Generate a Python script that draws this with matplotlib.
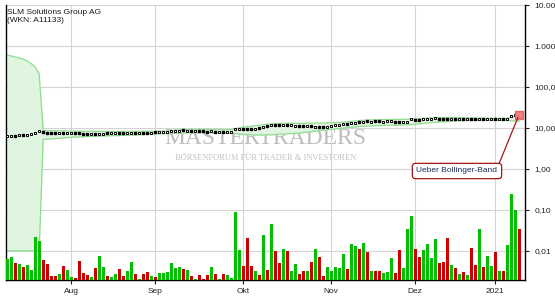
import numpy as np
import pandas as pd
import matplotlib
matplotlib.use('Agg')
import matplotlib.pyplot as plt

# -- Data --
dates = pd.bdate_range('2020-07-10', '2021-01-12')
dates = dates.drop(pd.to_datetime(['2020-12-24', '2020-12-25', '2020-12-31', '2021-01-01']))

price = [6.3, 6.4, 6.4, 6.6, 6.7, 6.9, 7.2, 7.7, 8.2, 8.0, 7.6,
         7.4, 7.4, 7.5, 7.5, 7.5, 7.4, 7.5, 7.4, 7.3, 7.3,
         7.2, 7.1, 7.1, 7.2, 7.4, 7.4, 7.6, 7.7, 7.6, 7.7, 7.7, 7.7, 7.6, 7.7, 7.7, 7.7,
         7.8, 7.8, 7.9, 7.8, 8.5, 8.6, 8.6, 8.7, 8.6, 8.6, 8.5,
         8.3, 8.2, 8.1, 8.2, 8.0, 8.0, 8.1, 8.0, 8.1,
         9.2, 9.3, 9.3, 9.3, 9.4, 9.5, 9.9, 10.5,
         11.2, 11.8, 11.8, 11.6, 11.8, 11.7, 11.5, 11.4, 11.2, 11.1, 11.0, 11.0, 10.8, 10.7,
         10.6, 10.7, 11.2, 11.6, 11.9, 12.2, 12.6, 13.0, 13.5, 14.0, 14.3, 14.5, 14.3, 14.5,
         14.4, 14.3, 14.5, 14.4, 14.3, 14.2, 13.8, 14.2, 16.3, 16.0, 16.0, 16.1, 16.1, 16.9,
         17.2, 17.0, 16.8, 16.6, 16.7, 16.6, 16.6, 16.8, 16.9, 16.7, 16.8, 16.9, 16.8, 16.9,
         16.8, 16.6, 16.7, 16.6, 16.9, 19.5, 20.5, 20.2]

band_upper = [600, 570, 540, 510, 480, 430, 370, 310, 210,
              8.6, 8.6, 8.6, 8.5, 8.5, 8.5, 8.4, 8.4, 8.4, 8.3, 8.3, 8.3,
              8.3, 8.2, 8.2, 8.2, 8.2, 8.2, 8.2, 8.2, 8.2, 8.2, 8.2, 8.2, 8.2, 8.3, 8.3, 8.3, 8.3, 8.3, 8.4, 8.4,
              8.7, 8.9, 9.0, 9.1, 9.2, 9.2, 9.2, 9.2, 9.2, 9.2, 9.1, 9.1, 9.1, 9.0, 9.0, 9.0,
              9.6, 10.1, 10.5, 10.8, 11.1, 11.4, 11.7, 12.0, 12.3, 12.5, 12.7, 12.8, 12.9, 13.0, 13.0,
              13.0, 13.0, 13.0, 13.0, 13.1, 13.1, 13.2, 13.2, 13.3, 13.4, 13.5, 13.7, 13.9, 14.2, 14.5,
              14.9, 15.2, 15.4, 15.6, 15.7, 15.8, 15.9, 16.0, 16.0, 16.1, 16.2, 16.2, 16.3, 16.3,
              16.5, 16.8, 17.0, 17.2, 17.4, 17.7, 17.9, 18.0, 18.0, 18.0, 17.9, 17.9, 17.8, 17.8,
              17.7, 17.6, 17.5, 17.4, 17.4, 17.3, 17.2, 17.1, 17.1, 17.0, 17.1, 18.2, 19.2, 19.8]

band_lower = [0.01, 0.01, 0.01, 0.01, 0.01, 0.01, 0.01, 0.01, 0.01,
              5.2, 5.3, 5.4, 5.5, 5.6, 5.7, 5.8, 5.9, 6.0, 6.0, 6.1, 6.2, 6.2, 6.3, 6.3, 6.4, 6.4,
              6.5, 6.5, 6.5, 6.6, 6.6,
              6.7, 6.8, 6.8, 6.9, 7.0, 7.0, 7.1, 7.2, 7.2, 7.3, 7.3, 7.4, 7.5, 7.5, 7.6, 7.6, 7.6, 7.6,
              7.6, 7.6, 7.6, 7.6, 7.5, 7.5, 7.4, 7.4, 7.3, 7.1, 7.0, 6.9, 6.8, 6.7, 6.7,
              6.7, 6.8, 6.8, 6.9, 7.0, 7.1, 7.2, 7.3, 7.4, 7.5, 7.7, 7.9, 8.1, 8.4, 8.6, 8.8, 9.0, 9.3,
              9.5, 9.7, 9.9, 10.1, 10.3, 10.5, 10.8, 11.0, 11.1, 11.2, 11.3, 11.4, 11.5, 11.6, 11.7,
              11.7, 11.8,
              11.9, 12.0, 12.1, 12.3, 12.6, 12.9, 13.2, 13.5, 13.8, 14.0, 14.2, 14.4, 14.6, 14.8,
              15.0, 15.1, 15.2, 15.3, 15.3, 15.4, 15.4, 15.4, 15.4, 15.4, 15.4, 15.3, 15.2, 15.0,
              14.8, 14.6]

volume = [0.0065, 0.0071, 0.0051, 0.0048, 0.0041, 0.0046, 0.0034, 0.022, 0.0175, 0.0060,
          0.0048, 0.0025, 0.0025, 0.0027, 0.0043, 0.0034, 0.0023, 0.0022, 0.0057, 0.0029,
          0.0026, 0.0023, 0.0038, 0.0076, 0.0041, 0.0025, 0.0023, 0.0027, 0.0036, 0.0025,
          0.0033, 0.0054, 0.0027, 0.0021, 0.0027, 0.0031, 0.0025, 0.0023, 0.0029, 0.0029,
          0.0031, 0.0051, 0.0038, 0.0041, 0.0036, 0.0034, 0.0025, 0.0021, 0.0026, 0.0021,
          0.0026, 0.0041, 0.0027, 0.0021, 0.0027, 0.0026, 0.0022, 0.089, 0.0106, 0.0043,
          0.0207, 0.0043, 0.0033, 0.0026, 0.0245, 0.0034, 0.0456, 0.0100, 0.0051, 0.0112,
          0.0100, 0.0033, 0.0048, 0.0027, 0.0033, 0.0033, 0.0054, 0.0112, 0.0071, 0.0025,
          0.0041, 0.0033, 0.0041, 0.0038, 0.0085, 0.0036, 0.0148, 0.0132, 0.0112, 0.0157,
          0.0095, 0.0033, 0.0033, 0.0033, 0.0029, 0.0031, 0.0067, 0.0029, 0.0106, 0.0038,
          0.0344, 0.0714, 0.0112, 0.0071, 0.0106, 0.0148, 0.0067, 0.0196, 0.0051, 0.0054,
          0.0207, 0.0046, 0.0038, 0.0027, 0.0031, 0.0026, 0.0118, 0.0046, 0.0344, 0.0041,
          0.0076, 0.0043, 0.0093, 0.0033, 0.0033, 0.0140, 0.25, 0.10, 0.035]

# g = close up, r = close down (ten days per chunk)
direction = ''.join(['ggrgrggggr', 'rrrgrggrrr', 'rgrggrggrr', 'ggrgrrgrgg',
                     'ggggrgrgrr', 'rgrgrggggr', 'rrgrgrgrrg', 'rggrrgrgrr',
                     'gggggrggrg', 'rgrrgggrrg', 'ggrrggggrr', 'rgrgrgrrgr',
                     'ggrgrgggr'])

month_labels = ['Aug', 'Sep', 'Okt', 'Nov', 'Dez', '2021']
ytick_vals = [0.01, 0.1, 1, 10, 100, 1000, 10000]
ytick_labels = ['0,01', '0,10', '1,00', '10,00', '100,00', '1.000,00', '10.000,00']

# -- Figure --
plt.rcParams['font.family'] = ['Liberation Sans', 'DejaVu Sans']
fig = plt.figure(figsize=(5.55, 3.0), dpi=100)
ax = fig.add_axes([6/555, 20/300, 519/555, 275/300])

xx = np.arange(len(dates))
ymin = 0.00195

# watermark
ax.text(0.50, 0.515, 'MASTERTRADERS', transform=ax.transAxes, ha='center', va='center',
        fontsize=17, family='Liberation Serif', color='#bdbdbd', zorder=0)
ax.text(0.50, 0.442, 'BÖRSENFORUM FÜR TRADER & INVESTOREN', transform=ax.transAxes,
        ha='center', va='center', fontsize=6, family='Liberation Serif', color='#c0c0c0', zorder=0)

# bollinger band
ax.fill_between(xx, band_lower, band_upper, color='#e0f5e0', zorder=1, linewidth=0)
ax.plot(xx, band_upper, color='#8fdc8f', lw=0.9, zorder=2)
ax.plot(xx, band_lower, color='#8fdc8f', lw=0.9, zorder=2)

# volume
colors = ['#00c000' if d == 'g' else '#cc0000' for d in direction]
vol = np.array(volume)
ax.bar(xx, vol - ymin, bottom=ymin, width=0.75, color=colors, zorder=3, linewidth=0)

# price
price = np.array(price)
isup = np.array([d == 'g' for d in direction])
ax.plot(xx[isup], price[isup], ls='none', marker='s', ms=1.9, mfc='white', mec='black',
        mew=0.7, zorder=4)
ax.plot(xx[~isup], price[~isup], ls='none', marker='s', ms=1.9, color='black', zorder=4)

# signal
ax.plot(xx[-1], 21.0, marker='s', ms=6, color='#f08080', mec='#e06868', zorder=5)
ax.annotate('Ueber Bollinger-Band', xy=(xx[-1], 21.0), xytext=(457/555, 1 - 171/300),
            textcoords='figure fraction', ha='center', va='center', fontsize=6,
            color='#1a2a5a', zorder=6,
            bbox=dict(boxstyle='round,pad=0.5,rounding_size=0.4', fc='white', ec='#a01818', lw=0.9),
            arrowprops=dict(arrowstyle='-', color='#a01818', lw=0.9, relpos=(1, 1), shrinkA=0, shrinkB=2))

# title
ax.text(0.002, 0.985, 'SLM Solutions Group AG\n(WKN: A11133)', transform=ax.transAxes,
        ha='left', va='top', fontsize=6, color='#1a1a1a', linespacing=1.15)

# axes
ax.set_yscale('log')
ax.set_ylim(ymin, 10000)
ax.set_xlim(-0.3, 129.5)
month_idx = [i for i in range(1, len(dates)) if dates[i].month != dates[i - 1].month]
ax.set_xticks(month_idx)
ax.set_xticklabels(month_labels, fontsize=6)
ax.yaxis.tick_right()
ax.set_yticks(ytick_vals)
ax.set_yticklabels(ytick_labels, fontsize=6)
ax.minorticks_off()
ax.tick_params(axis='y', length=3, width=0.8, pad=4, colors='#222222')
ax.tick_params(axis='x', length=3, width=0.8, pad=3, colors='#222222')
ax.grid(True, color='#d4d4d4', lw=0.8, zorder=0)
ax.set_axisbelow(True)
ax.spines['top'].set_visible(False)
for s in ['left', 'right', 'bottom']:
    ax.spines[s].set_linewidth(1.0)

fig.savefig('out.png', dpi=100)
